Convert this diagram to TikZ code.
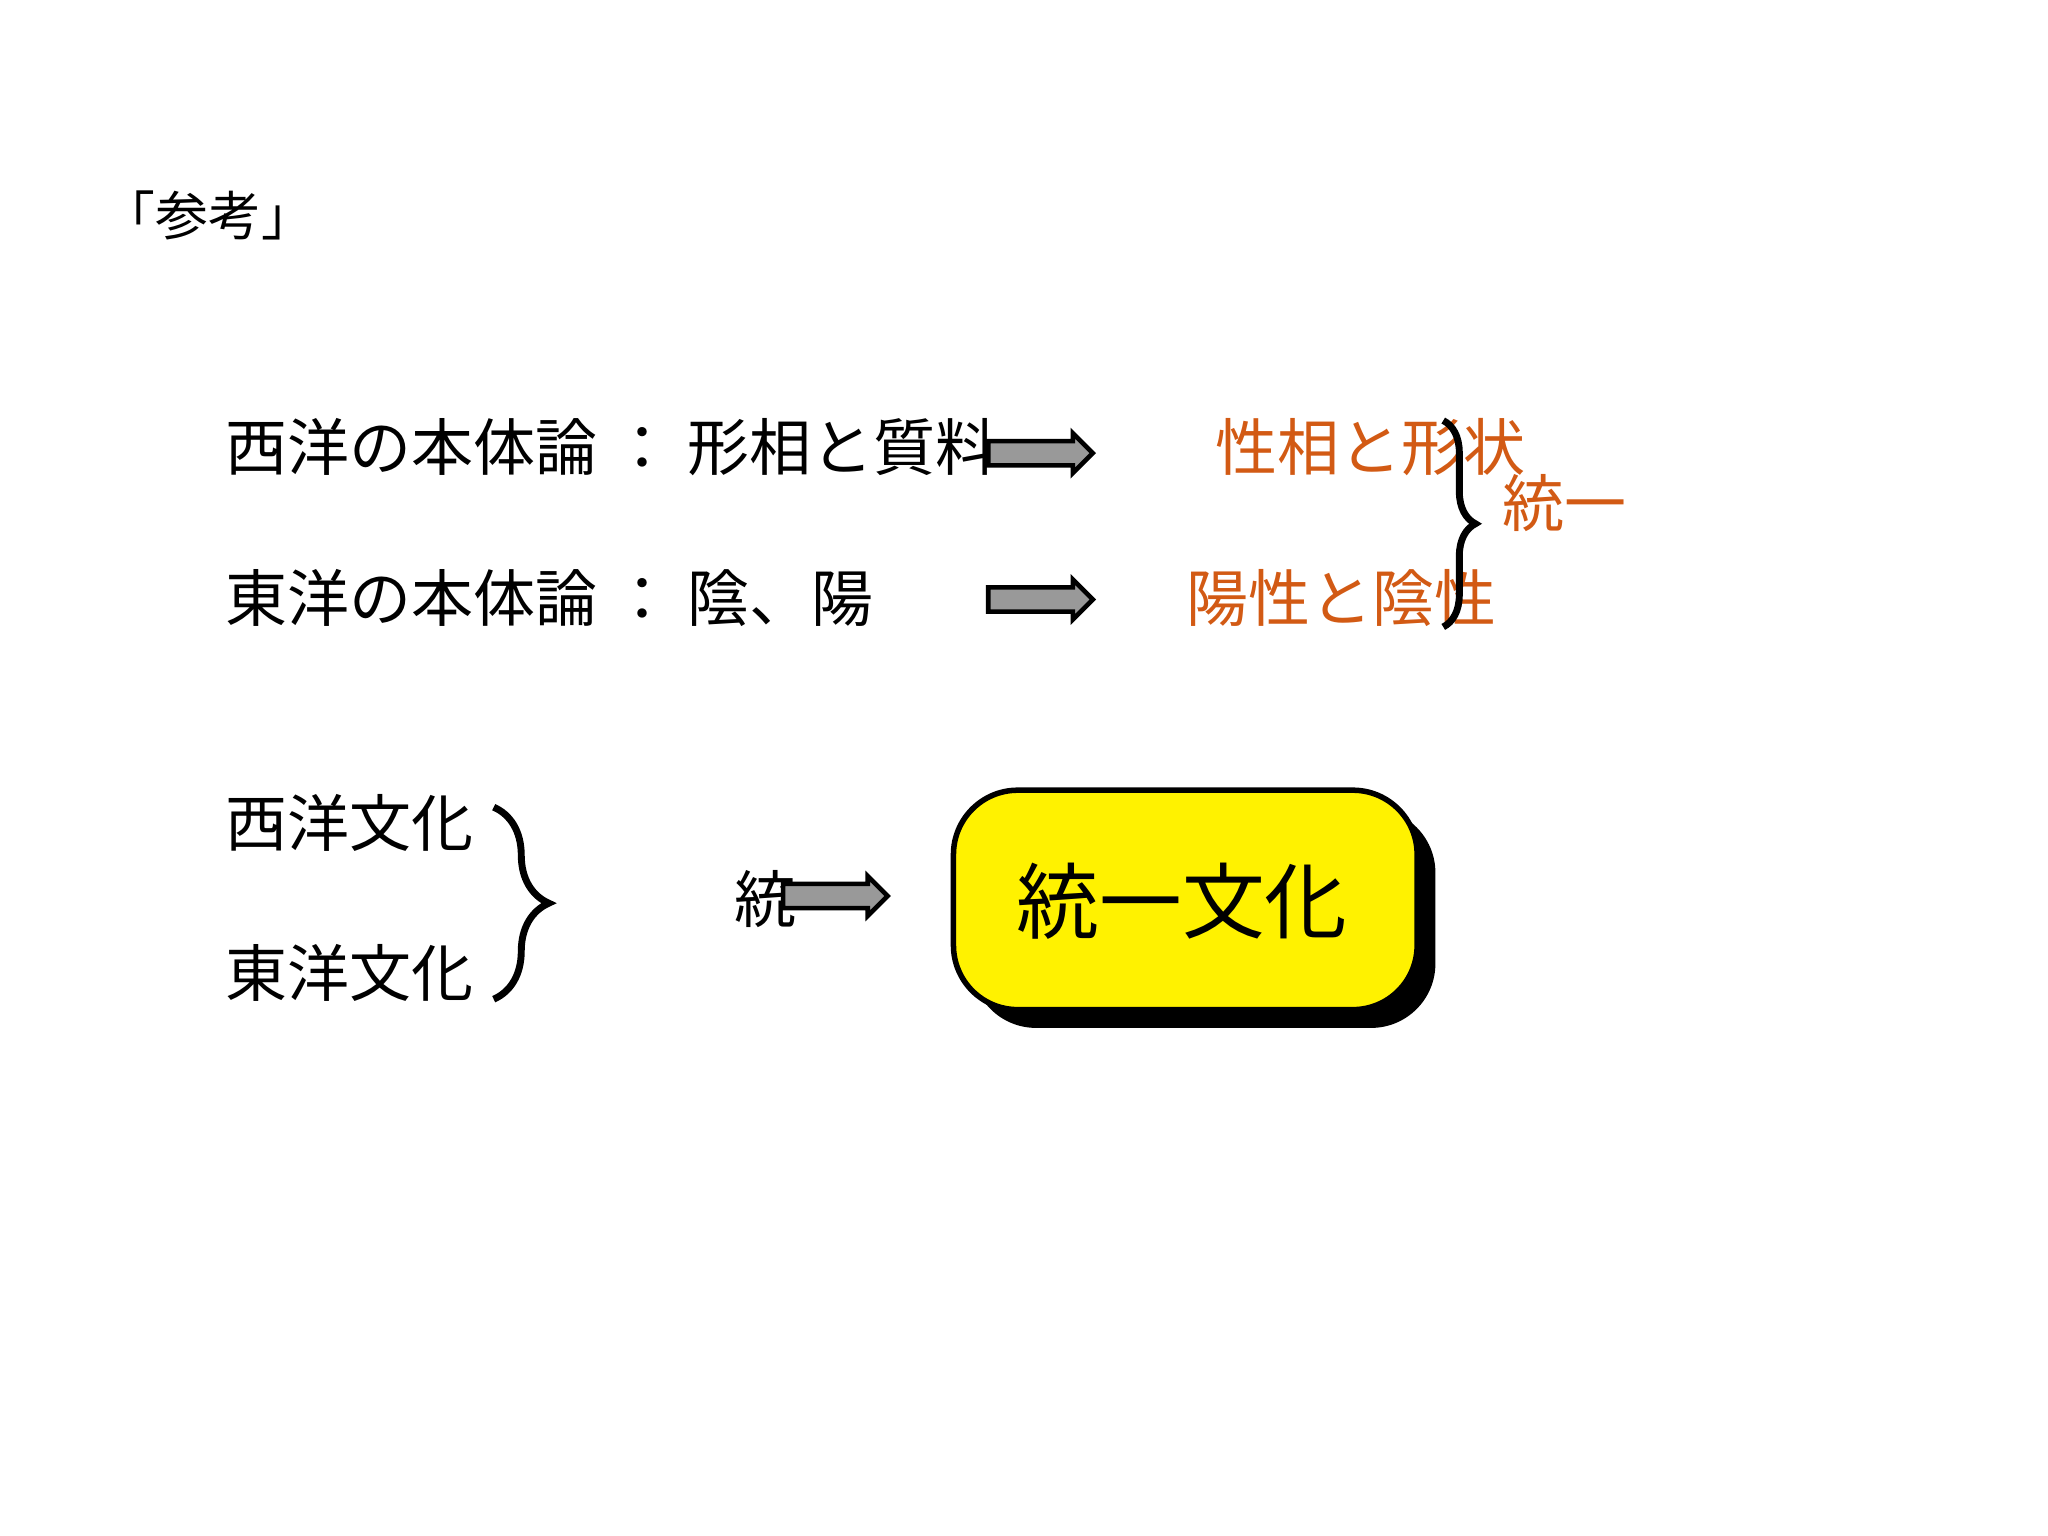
\documentclass[tikz,border=0pt]{standalone}
\usepackage{fontspec}
\setmainfont{Noto Sans CJK JP}
\usetikzlibrary{shapes.arrows,decorations.pathreplacing}
\definecolor{org}{RGB}{210,90,20}
\tikzset{
  jt/.style={anchor=west,inner sep=0pt,font=\fontsize{13.5}{14}\selectfont},
  ot/.style={jt,text=org},
  garrow/.style={single arrow,draw=black,fill=gray!80,minimum height=0.8cm,minimum width=0.28cm,single arrow head extend=0.06cm,inner sep=0pt,line width=1pt},
  br/.style={decorate,decoration={brace,amplitude=7pt},line width=1.5pt}
}
\newcommand{\shaft}{\rule{0pt}{0.15cm}}
\begin{document}
\begin{tikzpicture}[x=0.01cm,y=-0.01cm]
\useasboundingbox (0,0) rectangle (1568,1176);
\node[jt,font=\fontsize{11.5}{12}\selectfont] (ref) at (78,165) {「参考」};
\node[jt] (w1) at (172,342) {西洋の本体論 ： 形相と質料};
\node[garrow] (a1) at (792,347) {\shaft};
\node[ot] (o1) at (930,342) {性相と形状};
\node[jt] (e1) at (172,458) {東洋の本体論 ： 陰、陽};
\node[garrow] (a2) at (792,459) {\shaft};
\node[ot] (o2) at (908,458) {陽性と陰性};
\draw[br] (1105,322) -- (1105,480);
\node[ot] (u1) at (1150,385) {統一};
\node[jt] (wc) at (172,630) {西洋文化};
\node[jt] (ec) at (172,745) {東洋文化};
\draw[br,decoration={brace,amplitude=12pt}] (378,618) -- (378,765);
\node[jt] (u2) at (562,688) {統};
\node[garrow] (a3) at (635,686) {\shaft};
\fill[black,rounded corners=14] (744,619) rectangle (1099,787);
\draw[fill=yellow,line width=1.2pt,rounded corners=14] (730,605) rectangle (1085,773);
\node[inner sep=0pt,font=\fontsize{18}{19}\selectfont] (box) at (905,690) {統一文化};
\end{tikzpicture}
\end{document}
